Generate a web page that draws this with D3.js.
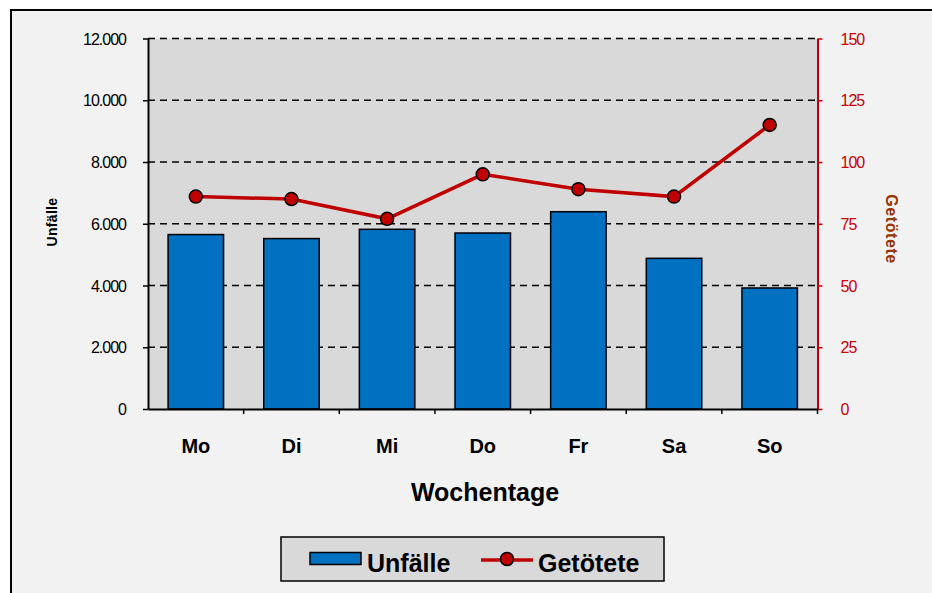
<!DOCTYPE html>
<html><head><meta charset="utf-8">
<script src="https://cdn.jsdelivr.net/npm/d3@7"></script>
<style>body{margin:0;background:#fff}svg{display:block}text{font-family:Arial,"Liberation Sans",sans-serif}</style>
</head><body>
<svg id="c" width="932" height="593"></svg>
<script>
const categories = ["Mo","Di","Mi","Do","Fr","Sa","So"];
const unfaelle = [5650, 5520, 5820, 5700, 6390, 4880, 3920];
const getoetete = [86, 85, 77, 95, 89, 86, 115];
const leftTicks = [0,2000,4000,6000,8000,10000,12000];
const rightTicks = [0,25,50,75,100,125,150];

const svg = d3.select("#c");
const m = {l:148, r:817.5, t:38.5, b:409};

svg.append("rect").attr("x",11).attr("y",10).attr("width",940).attr("height",600)
  .attr("fill","#f2f2f2").attr("stroke","#000").attr("stroke-width",2);

const x = d3.scaleBand().domain(categories).range([m.l,m.r]).paddingInner(0.42).paddingOuter(0.21);
const xb = d3.scaleBand().domain(categories).range([m.l,m.r]);
const yL = d3.scaleLinear().domain([0,12000]).range([m.b,m.t]);
const yR = d3.scaleLinear().domain([0,150]).range([m.b,m.t]);

svg.append("rect").attr("x",m.l).attr("y",m.t).attr("width",m.r-m.l).attr("height",m.b-m.t).attr("fill","#d9d9d9");

// gridlines
svg.append("g").selectAll("line").data(leftTicks.filter(d=>d>0)).join("line")
  .attr("x1",m.l).attr("x2",m.r).attr("y1",d=>yL(d)).attr("y2",d=>yL(d))
  .attr("stroke","#000").attr("stroke-width",1.6).attr("stroke-dasharray","7,5");

// bars
svg.append("g").selectAll("rect").data(categories).join("rect")
  .attr("x",d=>x(d)).attr("width",x.bandwidth())
  .attr("y",(d,i)=>yL(unfaelle[i])).attr("height",(d,i)=>m.b-yL(unfaelle[i]))
  .attr("fill","#0070c0").attr("stroke","#000").attr("stroke-width",1.5);

// left axis
const fmt = d3.formatLocale({decimal:",",thousands:".",grouping:[3],currency:["","€"]}).format(",");
const gl = svg.append("g").attr("transform",`translate(${m.l},0)`)
  .call(d3.axisLeft(yL).tickValues(leftTicks).tickFormat(fmt).tickSize(5).tickSizeOuter(0));
gl.select(".domain").attr("stroke","#000").attr("stroke-width",2);
gl.selectAll(".tick line").attr("stroke","#000").attr("stroke-width",1.5);
gl.selectAll("text").attr("font-size",16).attr("fill","#000").attr("x",-22).attr("dy","0.35em").style("letter-spacing","-1px");

// right axis
const gr = svg.append("g").attr("transform",`translate(${m.r},0)`)
  .call(d3.axisRight(yR).tickValues(rightTicks).tickSize(5).tickSizeOuter(0));
gr.select(".domain").attr("stroke","#c00000").attr("stroke-width",2);
gr.selectAll(".tick line").attr("stroke","#c00000").attr("stroke-width",1.5);
gr.selectAll("text").attr("font-size",16).attr("fill","#cc0000").attr("x",23).attr("dy","0.35em").style("letter-spacing","-1px");

// bottom axis
const gb = svg.append("g").attr("transform",`translate(0,${m.b})`)
  .call(d3.axisBottom(xb).tickSize(0).tickSizeOuter(0));
gb.select(".domain").attr("stroke","#000").attr("stroke-width",2);
gb.selectAll("text").attr("font-size",20).attr("font-weight","bold").attr("fill","#000").attr("y",44).attr("dy","0");
svg.append("g").selectAll("line").data(categories.slice(1).concat(["__end"])).join("line")
  .attr("x1",(d,i)=>m.l+xb.step()*(i+1)).attr("x2",(d,i)=>m.l+xb.step()*(i+1))
  .attr("y1",m.b).attr("y2",m.b+5).attr("stroke","#000").attr("stroke-width",1.5);

// line series
const line = d3.line().x((d,i)=>xb(categories[i])+xb.bandwidth()/2).y(d=>yR(d));
svg.append("path").datum(getoetete).attr("d",line).attr("fill","none").attr("stroke","#c00000").attr("stroke-width",3.5);
svg.append("g").selectAll("circle").data(getoetete).join("circle")
  .attr("cx",(d,i)=>xb(categories[i])+xb.bandwidth()/2).attr("cy",d=>yR(d)).attr("r",6.5)
  .attr("fill","#c00000").attr("stroke","#000").attr("stroke-width",1.5);

// axis titles
svg.append("text").attr("transform",`translate(57,222) rotate(-90)`).attr("text-anchor","middle")
  .attr("font-size",14).attr("font-weight","bold").style("letter-spacing","0.3px").text("Unfälle");
svg.append("text").attr("transform",`translate(886,229) rotate(90)`).attr("text-anchor","middle")
  .attr("font-size",16).attr("font-weight","bold").attr("fill","#993300").style("letter-spacing","0.6px").text("Getötete");
svg.append("text").attr("x",485).attr("y",501).attr("text-anchor","middle")
  .attr("font-size",25).attr("font-weight","bold").text("Wochentage");

// legend
const lg = svg.append("g");
lg.append("rect").attr("x",281).attr("y",537).attr("width",383).attr("height",44).attr("fill","#d9d9d9").attr("stroke","#000").attr("stroke-width",1.5);
lg.append("rect").attr("x",310).attr("y",552.5).attr("width",51).attr("height",12).attr("fill","#0070c0").attr("stroke","#000").attr("stroke-width",1.5);
lg.append("text").attr("x",367).attr("y",572).attr("font-size",25).attr("font-weight","bold").text("Unfälle");
lg.append("line").attr("x1",481).attr("x2",533).attr("y1",560).attr("y2",560).attr("stroke","#c00000").attr("stroke-width",3.5);
lg.append("circle").attr("cx",507).attr("cy",559).attr("r",6.5).attr("fill","#c00000").attr("stroke","#000").attr("stroke-width",1.5);
lg.append("text").attr("x",538).attr("y",572).attr("font-size",25).attr("font-weight","bold").text("Getötete");
</script>
</body></html>
